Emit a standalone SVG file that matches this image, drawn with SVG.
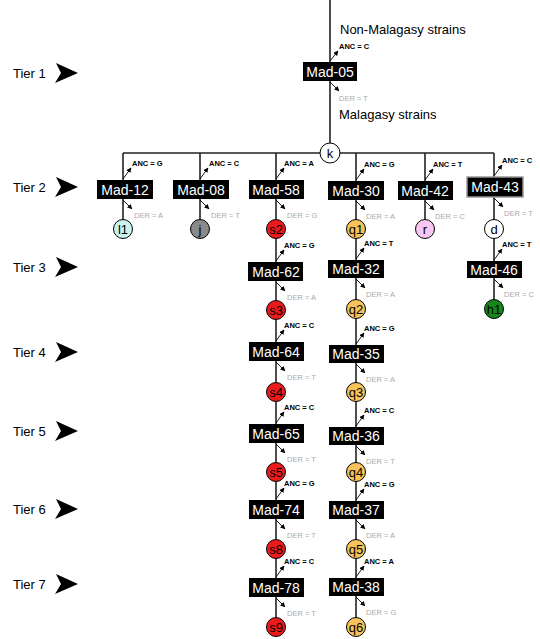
<svg xmlns="http://www.w3.org/2000/svg" width="540" height="639" viewBox="0 0 540 639">
<defs>
<marker id="ah" viewBox="0 0 10 10" refX="9" refY="5" markerWidth="5" markerHeight="5" markerUnits="userSpaceOnUse" orient="auto"><path d="M0,0 L10,5 L0,10 z" fill="#000"/></marker>
<path id="tierArrow" d="M0,-10 L22,0 L-1,10 L5,0 z" fill="#000"/>
</defs>
<style>
text{font-family:"Liberation Sans",Arial,sans-serif}
.tier{font-size:13px;fill:#000}
.big{font-size:13px;fill:#000}
.box{fill:#000}
.mad{font-size:14px;fill:#fff;text-anchor:middle}
.anc{font-size:7.5px;font-weight:bold;fill:#000}
.der{font-size:7.5px;fill:#aaa}
.ln{stroke:#222;stroke-width:1.6;fill:none}
.ar{stroke:#000;stroke-width:0.9;marker-end:url(#ah)}
.cir{stroke:#000;stroke-width:1}
.cl{font-size:13px;fill:#000;text-anchor:middle}
</style>
<rect width="540" height="639" fill="#fff"/>
<g id="tiers">
<text class="tier" x="13" y="78">Tier 1</text><use href="#tierArrow" x="56" y="73"/>
<text class="tier" x="13" y="192">Tier 2</text><use href="#tierArrow" x="56" y="187"/>
<text class="tier" x="13" y="272">Tier 3</text><use href="#tierArrow" x="56" y="267"/>
<text class="tier" x="13" y="357">Tier 4</text><use href="#tierArrow" x="56" y="352"/>
<text class="tier" x="13" y="436">Tier 5</text><use href="#tierArrow" x="56" y="431"/>
<text class="tier" x="13" y="514">Tier 6</text><use href="#tierArrow" x="56" y="509"/>
<text class="tier" x="13" y="589">Tier 7</text><use href="#tierArrow" x="56" y="584"/>
</g>
<g id="connectors">
<line class="ln" x1="330" y1="0" x2="330" y2="143"/>
<line class="ln" x1="123" y1="153" x2="494" y2="153"/>
<line class="ln" x1="123" y1="153" x2="123" y2="220"/>
<line class="ln" x1="200" y1="153" x2="200" y2="220"/>
<line class="ln" x1="276" y1="153" x2="276" y2="618"/>
<line class="ln" x1="356" y1="153" x2="356" y2="618"/>
<line class="ln" x1="425" y1="153" x2="425" y2="220"/>
<line class="ln" x1="494" y1="153" x2="494" y2="300"/>
</g>
<g id="labels">
<text class="big" x="340" y="34">Non-Malagasy strains</text>
<text class="big" x="339" y="119">Malagasy strains</text>
</g>
<g id="mad-05"><line class="ar" x1="330" y1="61" x2="338" y2="51"/><text class="anc" x="339" y="49">ANC = C</text><rect class="box" x="303" y="62" width="54" height="19"/><text class="mad" x="330" y="77">Mad-05</text><line class="ar" x1="330" y1="82" x2="339" y2="91"/><text class="der" x="339" y="101">DER = T</text></g>
<g id="k"><circle class="cir" cx="330" cy="153" r="10" fill="#fff"/><text class="cl" x="330" y="158" style="font-size:13px">k</text></g>

<g id="mad-12"><line class="ar" x1="123" y1="179" x2="131" y2="168"/><text class="anc" x="132" y="166">ANC = G</text><rect class="box" x="97" y="180" width="56" height="19"/><text class="mad" x="125" y="195">Mad-12</text><line class="ar" x1="123" y1="200" x2="132" y2="209"/><text class="der" x="134" y="218">DER = A</text></g>
<g id="mad-08"><line class="ar" x1="200" y1="179" x2="208" y2="168"/><text class="anc" x="209" y="166">ANC = C</text><rect class="box" x="173" y="180" width="56" height="19"/><text class="mad" x="201" y="195">Mad-08</text><line class="ar" x1="200" y1="200" x2="209" y2="209"/><text class="der" x="211" y="218">DER = T</text></g>
<g id="mad-58"><line class="ar" x1="276" y1="179" x2="284" y2="168"/><text class="anc" x="284" y="166">ANC = A</text><rect class="box" x="249" y="180" width="55" height="19"/><text class="mad" x="276" y="195">Mad-58</text><line class="ar" x1="276" y1="200" x2="285" y2="209"/><text class="der" x="287" y="218">DER = G</text></g>
<g id="mad-30"><line class="ar" x1="356" y1="180" x2="364" y2="169"/><text class="anc" x="364" y="167">ANC = G</text><rect class="box" x="328" y="181" width="56" height="19"/><text class="mad" x="356" y="196">Mad-30</text><line class="ar" x1="356" y1="201" x2="365" y2="210"/><text class="der" x="366" y="219">DER = A</text></g>
<g id="mad-42"><line class="ar" x1="425" y1="180" x2="433" y2="169"/><text class="anc" x="433" y="167">ANC = T</text><rect class="box" x="398" y="181" width="55" height="19"/><text class="mad" x="425" y="196">Mad-42</text><line class="ar" x1="425" y1="201" x2="434" y2="210"/><text class="der" x="435" y="219">DER = C</text></g>
<g id="mad-43"><line class="ar" x1="494" y1="176" x2="502" y2="165"/><text class="anc" x="502" y="163">ANC = C</text><rect class="box" x="467" y="177" width="56" height="20" stroke="#999" stroke-width="1.5"/><text class="mad" x="495" y="192">Mad-43</text><line class="ar" x1="494" y1="198" x2="503" y2="207"/><text class="der" x="504" y="216">DER = T</text></g>

<g id="l1"><circle class="cir" cx="123" cy="229" r="9.5" fill="#c9f1ee"/><text class="cl" x="123" y="233.5">l1</text></g>
<g id="j"><circle class="cir" cx="200" cy="229" r="9.5" fill="#8a8a8a"/><text class="cl" x="200" y="233.5">j</text></g>
<g id="r"><circle class="cir" cx="425" cy="229" r="9.5" fill="#f8c6f0"/><text class="cl" x="425" y="233.5">r</text></g>
<g id="d"><circle class="cir" cx="494" cy="229" r="9.5" fill="#fff"/><text class="cl" x="494" y="233.5">d</text></g>

<g id="mad-46"><line class="ar" x1="494" y1="260" x2="502" y2="249"/><text class="anc" x="502" y="247">ANC = T</text><rect class="box" x="467" y="261" width="55" height="17"/><text class="mad" x="494" y="275">Mad-46</text><line class="ar" x1="494" y1="279" x2="503" y2="288"/><text class="der" x="504" y="297">DER = C</text></g>
<g id="h1"><circle class="cir" cx="494" cy="309" r="9.5" fill="#14861a"/><text class="cl" x="494" y="313.5">h1</text></g>

<g id="s2"><circle class="cir" cx="276" cy="229" r="9.5" fill="#ec1a1a"/><text class="cl" x="276" y="233.5">s2</text></g>
<g id="mad-62"><line class="ar" x1="276" y1="261" x2="284" y2="250"/><text class="anc" x="284" y="248">ANC = G</text><rect class="box" x="248" y="262" width="55" height="19"/><text class="mad" x="276" y="277">Mad-62</text><line class="ar" x1="276" y1="282" x2="285" y2="291"/><text class="der" x="287" y="300">DER = A</text></g>
<g id="s3"><circle class="cir" cx="276" cy="310" r="9.5" fill="#ec1a1a"/><text class="cl" x="276" y="314.5">s3</text></g>
<g id="mad-64"><line class="ar" x1="276" y1="341" x2="284" y2="330"/><text class="anc" x="284" y="328">ANC = C</text><rect class="box" x="249" y="342" width="55" height="19"/><text class="mad" x="276" y="357">Mad-64</text><line class="ar" x1="276" y1="362" x2="285" y2="371"/><text class="der" x="287" y="380">DER = T</text></g>
<g id="s4"><circle class="cir" cx="276" cy="392" r="9.5" fill="#ec1a1a"/><text class="cl" x="276" y="396.5">s4</text></g>
<g id="mad-65"><line class="ar" x1="276" y1="423" x2="284" y2="412"/><text class="anc" x="284" y="410">ANC = C</text><rect class="box" x="249" y="424" width="55" height="19"/><text class="mad" x="276" y="439">Mad-65</text><line class="ar" x1="276" y1="444" x2="285" y2="453"/><text class="der" x="287" y="462">DER = T</text></g>
<g id="s5"><circle class="cir" cx="276" cy="472" r="9.5" fill="#ec1a1a"/><text class="cl" x="276" y="476.5">s5</text></g>
<g id="mad-74"><line class="ar" x1="276" y1="499" x2="284" y2="488"/><text class="anc" x="284" y="486">ANC = G</text><rect class="box" x="249" y="500" width="55" height="19"/><text class="mad" x="276" y="515">Mad-74</text><line class="ar" x1="276" y1="520" x2="285" y2="529"/><text class="der" x="287" y="538">DER = T</text></g>
<g id="s8"><circle class="cir" cx="276" cy="549" r="9.5" fill="#ec1a1a"/><text class="cl" x="276" y="553.5">s8</text></g>
<g id="mad-78"><line class="ar" x1="276" y1="577" x2="284" y2="566"/><text class="anc" x="284" y="564">ANC = C</text><rect class="box" x="249" y="578" width="55" height="19"/><text class="mad" x="276" y="593">Mad-78</text><line class="ar" x1="276" y1="598" x2="285" y2="607"/><text class="der" x="287" y="616">DER = T</text></g>
<g id="s9"><circle class="cir" cx="276" cy="627" r="9.5" fill="#ec1a1a"/><text class="cl" x="276" y="631.5">s9</text></g>

<g id="q1"><circle class="cir" cx="356" cy="229" r="9.5" fill="#f6c35a"/><text class="cl" x="356" y="233.5">q1</text></g>
<g id="mad-32"><line class="ar" x1="356" y1="259" x2="364" y2="248"/><text class="anc" x="364" y="246">ANC = T</text><rect class="box" x="328" y="260" width="56" height="18"/><text class="mad" x="356" y="274">Mad-32</text><line class="ar" x1="356" y1="279" x2="365" y2="288"/><text class="der" x="366" y="297">DER = A</text></g>
<g id="q2"><circle class="cir" cx="356" cy="309" r="9.5" fill="#f6c35a"/><text class="cl" x="356" y="313.5">q2</text></g>
<g id="mad-35"><line class="ar" x1="356" y1="344" x2="364" y2="333"/><text class="anc" x="364" y="331">ANC = G</text><rect class="box" x="329" y="345" width="55" height="18"/><text class="mad" x="356" y="359">Mad-35</text><line class="ar" x1="356" y1="364" x2="365" y2="373"/><text class="der" x="366" y="382">DER = A</text></g>
<g id="q3"><circle class="cir" cx="356" cy="392" r="9.5" fill="#f6c35a"/><text class="cl" x="356" y="396.5">q3</text></g>
<g id="mad-36"><line class="ar" x1="356" y1="426" x2="364" y2="415"/><text class="anc" x="364" y="413">ANC = C</text><rect class="box" x="329" y="427" width="55" height="18"/><text class="mad" x="356" y="441">Mad-36</text><line class="ar" x1="356" y1="446" x2="365" y2="455"/><text class="der" x="366" y="464">DER = T</text></g>
<g id="q4"><circle class="cir" cx="356" cy="472" r="9.5" fill="#f6c35a"/><text class="cl" x="356" y="476.5">q4</text></g>
<g id="mad-37"><line class="ar" x1="356" y1="500" x2="364" y2="489"/><text class="anc" x="364" y="487">ANC = G</text><rect class="box" x="329" y="501" width="55" height="18"/><text class="mad" x="356" y="515">Mad-37</text><line class="ar" x1="356" y1="520" x2="365" y2="529"/><text class="der" x="366" y="538">DER = A</text></g>
<g id="q5"><circle class="cir" cx="356" cy="549" r="9.5" fill="#f6c35a"/><text class="cl" x="356" y="553.5">q5</text></g>
<g id="mad-38"><line class="ar" x1="356" y1="577" x2="364" y2="566"/><text class="anc" x="364" y="564">ANC = A</text><rect class="box" x="329" y="578" width="55" height="18"/><text class="mad" x="356" y="592">Mad-38</text><line class="ar" x1="356" y1="597" x2="365" y2="606"/><text class="der" x="366" y="615">DER = G</text></g>
<g id="q6"><circle class="cir" cx="356" cy="627" r="9.5" fill="#f6c35a"/><text class="cl" x="356" y="631.5">q6</text></g>
</svg>
